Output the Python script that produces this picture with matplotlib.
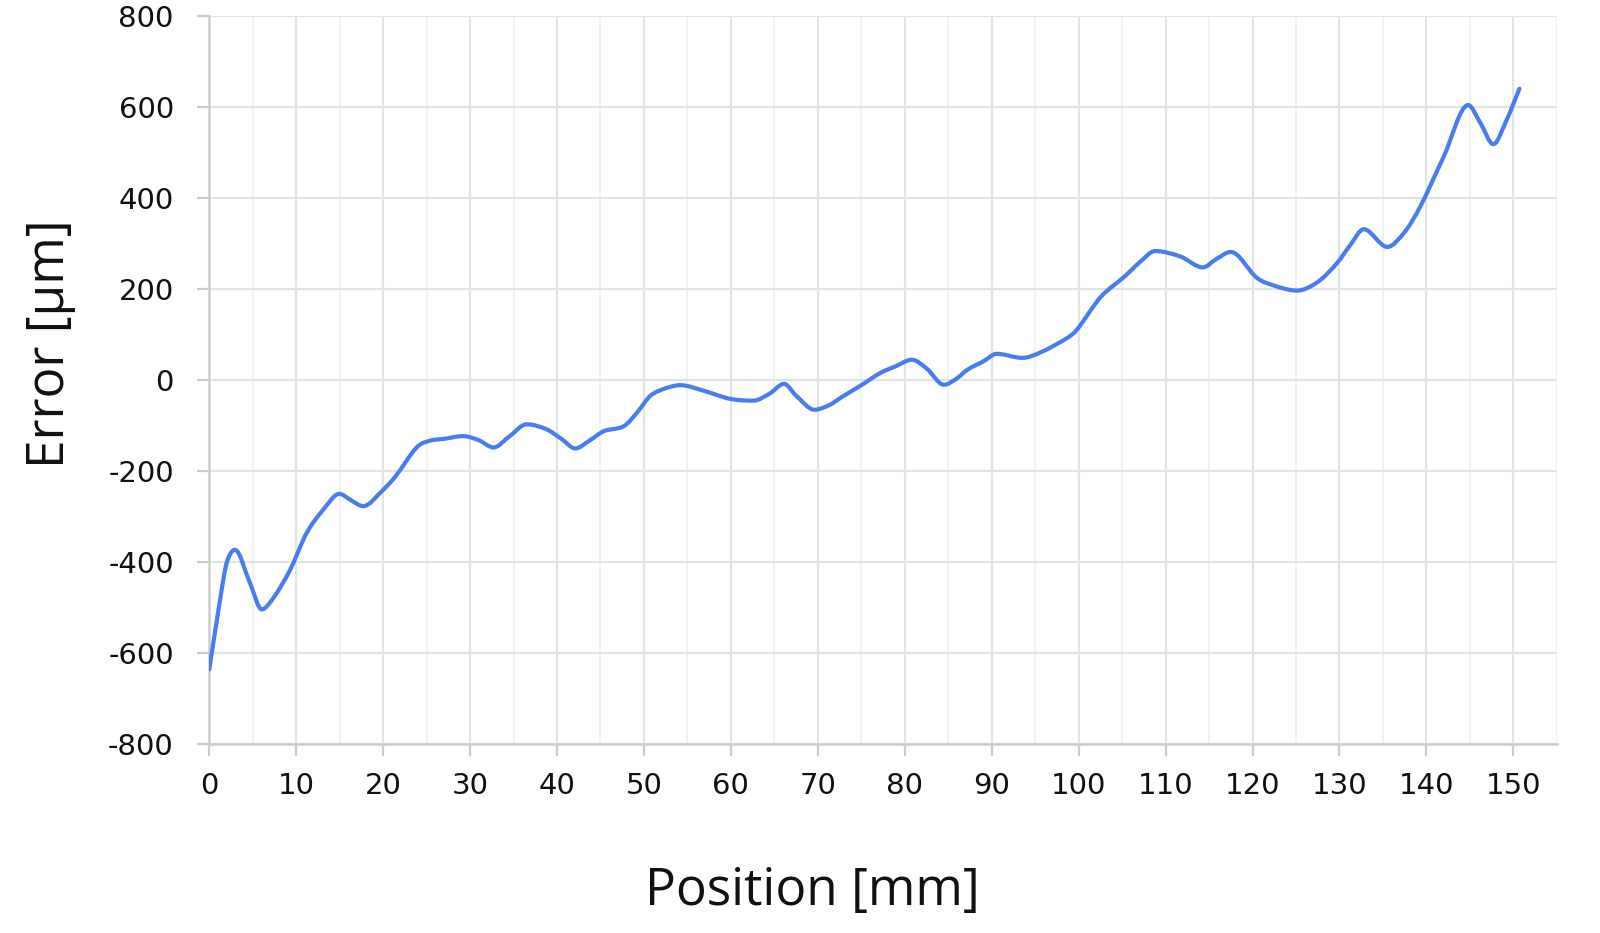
import matplotlib
matplotlib.use("Agg")
import matplotlib.pyplot as plt
import numpy as np
from matplotlib.ticker import MultipleLocator
from matplotlib.path import Path
from matplotlib.patches import PathPatch

plt.rcParams['font.family'] = ['Open Sans', 'DejaVu Sans']
plt.rcParams['axes.unicode_minus'] = False

position = [0, 1.25, 2.0, 2.96, 4.68, 6.03, 7.37, 9.3, 11.2, 13.1, 14.96, 16.3, 17.7,
            20.0, 21.4, 23.9, 25.4, 27.0, 29.2, 31.0, 32.7, 34.5, 36.5, 38.8, 40.5,
            42.1, 43.8, 45.4, 47.7, 49.3, 50.7, 52.3, 54.2, 57.0, 59.9, 62.6, 64.5,
            66.1, 67.5, 69.6, 71.4, 72.6, 75.0, 77.2, 79.0, 80.8, 82.5, 84.5, 86.0,
            87.2, 89.0, 90.6, 93.5, 95.6, 98.7, 99.8, 102.5, 105.4, 107.0, 108.8,
            111.7, 114.3, 115.8, 117.5, 120.5, 122.5, 125.1, 127.5, 129.7, 131.2,
            132.8, 135.5, 137.5, 139.3, 142.0, 144.8, 146.2, 147.7, 149.2, 150.7]
error = [-637, -483, -403, -374, -447, -505, -480, -418, -337, -286, -251, -265, -278,
         -242, -213, -148, -134, -130, -124, -133, -149, -125, -98, -109, -130,
         -151, -133, -113, -102, -70, -36, -20, -12, -25, -42, -46, -30,
         -9, -35, -66, -55, -40, -12, 15, 30, 44, 25, -11, 3,
         22, 40, 57, 48, 60, 92, 110, 181, 229, 258, 283,
         271, 247, 265, 281, 224, 207, 196, 215, 256, 295,
         331, 292, 325, 381, 491, 604, 565, 518, 570, 640]

x_ticks = list(range(0, 151, 10))
y_ticks = list(range(-800, 801, 200))

fig = plt.figure(figsize=(16, 9.33), dpi=100)
ax = fig.add_axes([0.1308, 0.2031, 0.973 - 0.1308, 0.9829 - 0.2031])

# smooth line: cubic Hermite Bezier path through the data points
xs = np.asarray(position, dtype=float)
ys = np.asarray(error, dtype=float)
n = len(xs)
slopes = np.empty(n)
slopes[0] = (ys[1] - ys[0]) / (xs[1] - xs[0])
slopes[-1] = (ys[-1] - ys[-2]) / (xs[-1] - xs[-2])
for i in range(1, n - 1):
    d0 = ys[i] - ys[i - 1]
    d1 = ys[i + 1] - ys[i]
    if d0 * d1 <= 0:
        slopes[i] = 0.0
    else:
        slopes[i] = (ys[i + 1] - ys[i - 1]) / (xs[i + 1] - xs[i - 1])
verts = [(xs[0], ys[0])]
codes = [Path.MOVETO]
for i in range(n - 1):
    dx = xs[i + 1] - xs[i]
    verts += [(xs[i] + dx / 3, ys[i] + slopes[i] * dx / 3),
              (xs[i + 1] - dx / 3, ys[i + 1] - slopes[i + 1] * dx / 3),
              (xs[i + 1], ys[i + 1])]
    codes += [Path.CURVE4] * 3
patch = PathPatch(Path(verts, codes), facecolor='none', edgecolor='#4a7cf0',
                  linewidth=3.0, joinstyle='round', capstyle='round', zorder=3)
ax.add_patch(patch)

ax.set_xlim(0, 155)
ax.set_ylim(-800, 800)
ax.set_xticks(x_ticks)
ax.set_yticks(y_ticks)
ax.xaxis.set_minor_locator(MultipleLocator(5))

ax.grid(which='major', color='#dfe5e5', linewidth=1.6, zorder=0)
ax.grid(which='minor', axis='x', color='#eff2f2', linewidth=1.4, zorder=0)
ax.set_axisbelow(True)

for s in ['top', 'right']:
    ax.spines[s].set_visible(False)
for s in ['left', 'bottom']:
    ax.spines[s].set_color('#c8cece')
    ax.spines[s].set_linewidth(1.8)

ax.tick_params(which='major', direction='out', length=8.5, width=1.6, color='#c8cece',
               labelsize=21, labelcolor='#111111')
ax.tick_params(axis='y', pad=17)
ax.tick_params(axis='x', pad=12)
ax.tick_params(which='minor', length=0)
for lab in ax.get_xticklabels() + ax.get_yticklabels():
    lab.set_fontfamily(['DejaVu Sans'])

fig.text(812 / 1600, 1 - 905 / 933, 'Position [mm]', fontsize=37, ha='center',
         va='baseline', color='#111111')
fig.text(51 / 1600, 1 - 344 / 933, 'Error [µm]', fontsize=37, rotation=90,
         ha='center', va='center', color='#111111')

fig.savefig('out.png', dpi=100, facecolor='white')
